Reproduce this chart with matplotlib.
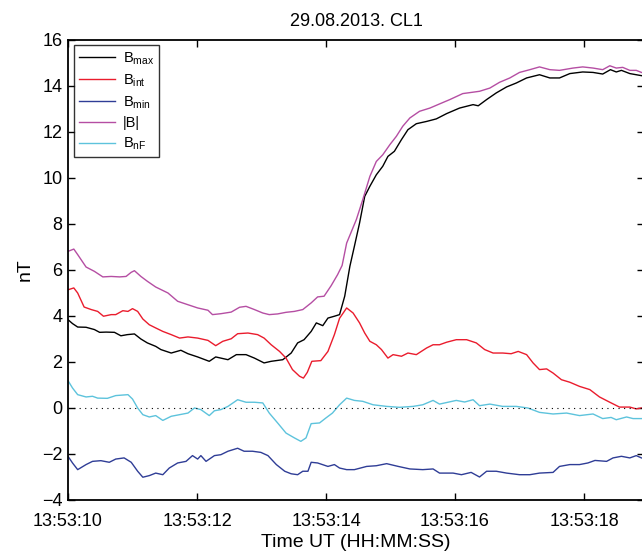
import matplotlib
matplotlib.use("Agg")
import matplotlib.pyplot as plt

plt.rcParams['font.family'] = ['Liberation Sans', 'DejaVu Sans']
plt.rcParams['mathtext.fontset'] = 'custom'
plt.rcParams['mathtext.rm'] = 'Liberation Sans'
plt.rcParams['mathtext.it'] = 'Liberation Sans'

# time in seconds after 13:53:00
t_max = [10.0, 10.07, 10.15, 10.28, 10.41, 10.49, 10.59, 10.72, 10.82, 10.92, 11.03, 11.13, 11.23, 11.36, 11.44,
         11.60, 11.75, 11.86, 12.01, 12.19, 12.29, 12.48, 12.61, 12.76, 12.89, 13.04, 13.15, 13.33, 13.46, 13.56,
         13.66, 13.77, 13.85, 13.95, 14.03, 14.13, 14.21, 14.29, 14.37, 14.44, 14.52, 14.60, 14.68, 14.78, 14.88,
         14.96, 15.06, 15.17, 15.27, 15.40, 15.56, 15.71, 15.87, 16.07, 16.28, 16.36, 16.49, 16.64, 16.80, 16.95,
         17.11, 17.31, 17.47, 17.62, 17.78, 17.98, 18.14, 18.29, 18.41, 18.50, 18.58, 18.71, 18.89]
b_max = [3.84, 3.67, 3.52, 3.51, 3.41, 3.29, 3.30, 3.29, 3.14, 3.19, 3.22, 3.00, 2.83, 2.68, 2.54,
         2.39, 2.51, 2.36, 2.22, 2.03, 2.22, 2.10, 2.32, 2.32, 2.17, 1.96, 2.03, 2.10, 2.39, 2.83,
         2.97, 3.33, 3.70, 3.58, 3.91, 3.99, 4.06, 4.86, 6.16, 7.03, 8.04, 9.20, 9.64, 10.14, 10.51,
         10.94, 11.16, 11.67, 12.10, 12.36, 12.46, 12.57, 12.80, 13.04, 13.19, 13.14, 13.41, 13.70, 13.96, 14.13,
         14.35, 14.49, 14.35, 14.35, 14.54, 14.61, 14.59, 14.52, 14.71, 14.61, 14.68, 14.54, 14.45]

t_int = [10.0, 10.09, 10.15, 10.25, 10.36, 10.46, 10.55, 10.67, 10.74, 10.85, 10.93, 11.00, 11.08, 11.16, 11.26,
         11.36, 11.47, 11.60, 11.73, 11.86, 12.01, 12.17, 12.29, 12.40, 12.53, 12.63, 12.79, 12.94, 13.04, 13.15,
         13.28, 13.38, 13.48, 13.59, 13.65, 13.71, 13.78, 13.92, 14.03, 14.13, 14.21, 14.32, 14.42, 14.52, 14.60,
         14.68, 14.78, 14.86, 14.96, 15.04, 15.17, 15.27, 15.40, 15.56, 15.66, 15.76, 15.87, 16.02, 16.18, 16.33,
         16.46, 16.59, 16.74, 16.87, 16.98, 17.11, 17.21, 17.31, 17.42, 17.52, 17.65, 17.78, 17.93, 18.09, 18.24,
         18.40, 18.55, 18.71, 18.81, 18.89]
b_int = [5.14, 5.22, 5.00, 4.39, 4.28, 4.20, 3.99, 4.06, 4.06, 4.23, 4.20, 4.32, 4.20, 3.87, 3.62,
         3.48, 3.33, 3.19, 3.04, 3.09, 3.04, 2.94, 2.71, 2.90, 3.01, 3.23, 3.26, 3.19, 3.04, 2.75,
         2.46, 2.17, 1.67, 1.38, 1.30, 1.55, 2.03, 2.06, 2.46, 3.19, 3.90, 4.35, 4.13, 3.70, 3.26,
         2.90, 2.75, 2.54, 2.17, 2.32, 2.25, 2.39, 2.32, 2.61, 2.75, 2.75, 2.86, 2.97, 2.97, 2.83,
         2.54, 2.39, 2.39, 2.36, 2.46, 2.32, 1.96, 1.67, 1.70, 1.52, 1.23, 1.12, 0.94, 0.80, 0.48,
         0.25, 0.04, 0.04, -0.04, 0.00]

t_min = [10.0, 10.07, 10.15, 10.28, 10.38, 10.51, 10.64, 10.74, 10.87, 10.98, 11.08, 11.16, 11.26, 11.36, 11.47,
         11.57, 11.70, 11.83, 11.93, 12.01, 12.06, 12.14, 12.27, 12.37, 12.48, 12.63, 12.73, 12.86, 12.99, 13.10,
         13.23, 13.36, 13.46, 13.56, 13.64, 13.72, 13.77, 13.87, 14.03, 14.13, 14.21, 14.32, 14.44, 14.63, 14.78,
         14.94, 15.12, 15.30, 15.50, 15.66, 15.76, 15.97, 16.10, 16.25, 16.38, 16.49, 16.64, 16.80, 17.00, 17.16,
         17.31, 17.52, 17.62, 17.78, 17.93, 18.06, 18.17, 18.35, 18.45, 18.58, 18.71, 18.81, 18.89]
b_min = [-2.10, -2.39, -2.68, -2.46, -2.32, -2.29, -2.36, -2.22, -2.17, -2.36, -2.75, -3.01, -2.94, -2.83, -2.90,
         -2.61, -2.39, -2.32, -2.07, -2.22, -2.07, -2.32, -2.07, -2.03, -1.88, -1.75, -1.88, -1.88, -1.93, -2.07,
         -2.46, -2.75, -2.86, -2.90, -2.75, -2.75, -2.36, -2.39, -2.54, -2.46, -2.61, -2.68, -2.68, -2.54, -2.51,
         -2.42, -2.54, -2.65, -2.68, -2.65, -2.83, -2.83, -2.90, -2.80, -3.00, -2.75, -2.75, -2.83, -2.90, -2.90,
         -2.83, -2.80, -2.54, -2.46, -2.46, -2.39, -2.28, -2.32, -2.17, -2.10, -2.17, -2.07, -2.17]

t_tot = [10.0, 10.09, 10.15, 10.28, 10.41, 10.54, 10.67, 10.80, 10.90, 10.98, 11.03, 11.13, 11.23, 11.36, 11.55,
         11.70, 11.86, 12.01, 12.17, 12.24, 12.37, 12.53, 12.66, 12.76, 12.89, 13.02, 13.12, 13.25, 13.38, 13.51,
         13.64, 13.77, 13.87, 13.97, 14.08, 14.18, 14.25, 14.32, 14.47, 14.57, 14.68, 14.78, 14.88, 14.99, 15.09,
         15.19, 15.30, 15.45, 15.61, 15.76, 15.92, 16.12, 16.38, 16.54, 16.69, 16.85, 17.00, 17.16, 17.31, 17.47,
         17.62, 17.83, 17.98, 18.14, 18.29, 18.40, 18.50, 18.60, 18.71, 18.81, 18.89]
b_tot = [6.81, 6.91, 6.67, 6.13, 5.94, 5.70, 5.72, 5.70, 5.72, 5.90, 5.97, 5.72, 5.51, 5.26, 5.00,
         4.64, 4.49, 4.35, 4.25, 4.06, 4.10, 4.17, 4.38, 4.42, 4.28, 4.13, 4.06, 4.09, 4.16, 4.20,
         4.28, 4.57, 4.83, 4.86, 5.32, 5.80, 6.20, 7.17, 8.19, 9.06, 10.07, 10.72, 11.01, 11.45, 11.81,
         12.25, 12.61, 12.90, 13.04, 13.22, 13.41, 13.67, 13.77, 13.91, 14.16, 14.35, 14.59, 14.71, 14.83, 14.71,
         14.68, 14.78, 14.83, 14.78, 14.71, 14.88, 14.78, 14.81, 14.68, 14.68, 14.59]

t_nf = [10.0, 10.07, 10.15, 10.28, 10.38, 10.46, 10.61, 10.74, 10.93, 11.00, 11.08, 11.16, 11.26, 11.36, 11.47,
        11.60, 11.73, 11.86, 11.96, 12.06, 12.19, 12.27, 12.37, 12.48, 12.63, 12.76, 12.89, 13.02, 13.12, 13.25,
        13.38, 13.51, 13.61, 13.69, 13.77, 13.90, 14.00, 14.10, 14.21, 14.32, 14.44, 14.57, 14.73, 14.94, 15.14,
        15.35, 15.50, 15.66, 15.76, 16.02, 16.15, 16.28, 16.38, 16.54, 16.74, 16.95, 17.13, 17.31, 17.52, 17.73,
        17.93, 18.14, 18.29, 18.42, 18.50, 18.66, 18.76, 18.89]
b_nf = [1.19, 0.87, 0.58, 0.48, 0.51, 0.43, 0.42, 0.54, 0.58, 0.39, 0.00, -0.29, -0.39, -0.33, -0.54,
        -0.36, -0.29, -0.22, 0.00, -0.07, -0.33, -0.12, -0.07, 0.07, 0.36, 0.25, 0.25, 0.22, -0.22, -0.65,
        -1.09, -1.30, -1.45, -1.30, -0.68, -0.65, -0.43, -0.22, 0.14, 0.43, 0.33, 0.29, 0.14, 0.07, 0.03,
        0.07, 0.14, 0.33, 0.17, 0.33, 0.26, 0.36, 0.10, 0.17, 0.07, 0.07, 0.00, -0.19, -0.26, -0.22,
        -0.33, -0.26, -0.46, -0.41, -0.51, -0.39, -0.46, -0.46]

x_ticks = [10, 12, 14, 16, 18]
x_tick_labels = ['13:53:10', '13:53:12', '13:53:14', '13:53:16', '13:53:18']
y_ticks = [-4, -2, 0, 2, 4, 6, 8, 10, 12, 14, 16]
y_tick_labels = ['\u22124', '\u22122', '0', '2', '4', '6', '8', '10', '12', '14', '16']

fig = plt.figure(figsize=(6.42, 5.52), dpi=100)
ax = fig.add_axes([68/642, 1 - 500/552, 576/642, 460/552])

lw = 1.0
ax.plot(t_max, b_max, color='black', lw=lw, label=r'B$_{\rm max}$')
ax.plot(t_int, b_int, color='#ea1c2d', lw=lw, label=r'B$_{\rm int}$')
ax.plot(t_min, b_min, color='#2f3d96', lw=lw, label=r'B$_{\rm min}$')
ax.plot(t_tot, b_tot, color='#b54ea3', lw=lw, label='|B|')
ax.plot(t_nf, b_nf, color='#5dc3dc', lw=lw, label=r'B$_{\rm nF}$')
ax.axhline(0, color='black', lw=0.8, ls=(0, (1, 4)))

ax.set_xlim(10, 18.93)
ax.set_ylim(-4, 16)
ax.set_xticks(x_ticks)
ax.set_xticklabels(x_tick_labels)
ax.set_yticks(y_ticks)
ax.set_yticklabels(y_tick_labels)
ax.tick_params(direction='in', top=True, right=True, length=5, width=1, labelsize=13)
ax.tick_params(axis='x', pad=9)
ax.tick_params(axis='y', pad=4)
for s in ax.spines.values():
    s.set_linewidth(1.3)

ax.set_title('29.08.2013. CL1', fontsize=13, pad=10)
ax.set_xlabel('Time UT (HH:MM:SS)', fontsize=14, labelpad=3)
ax.set_ylabel('nT', fontsize=14, labelpad=6)

leg = ax.legend(loc='upper left', bbox_to_anchor=(0.005, 0.995), fontsize=10.5, frameon=True,
                fancybox=False, edgecolor='black', handlelength=2.5, labelspacing=0.38,
                borderpad=0.35, handletextpad=0.5, borderaxespad=0.2)
leg.get_frame().set_linewidth(1.0)

fig.savefig('out.png', dpi=100)
